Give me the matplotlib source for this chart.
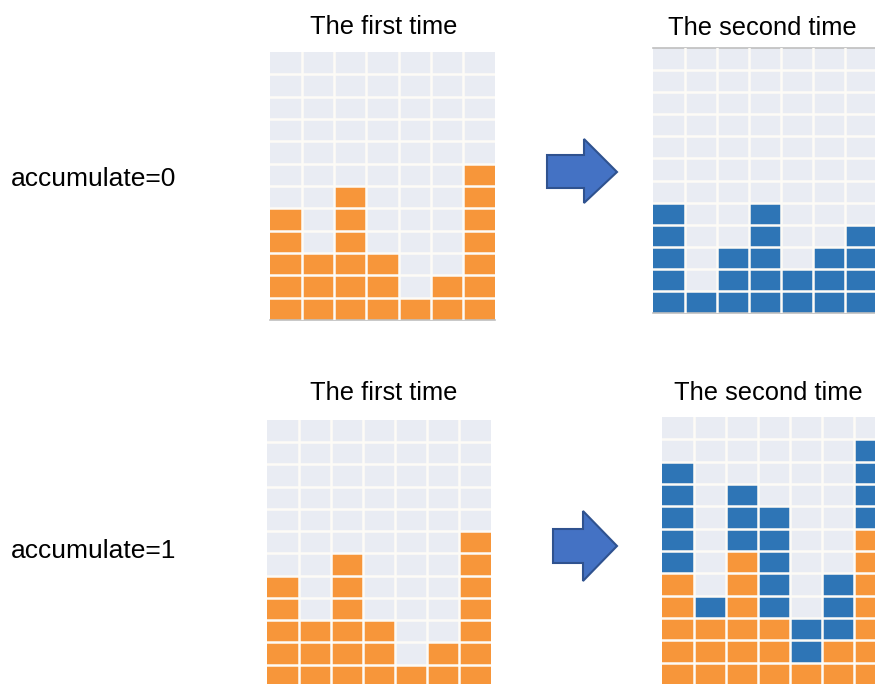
"""Grid diagram: accumulate=0 vs accumulate=1 across two passes."""
import matplotlib
matplotlib.use("Agg")
import matplotlib.pyplot as plt
import numpy as np
from matplotlib.patches import Polygon

plt.rcParams["font.family"] = ["Liberation Sans", "DejaVu Sans"]

W, H = 875, 684

# data
columns = np.arange(7)
n_rows = 12
first_heights = [5, 3, 6, 3, 1, 2, 7]
second_heights = [5, 1, 3, 5, 2, 3, 4]
row_labels = ["accumulate=0", "accumulate=1"]
titles = ["The first time", "The second time"]

ORANGE = "#F7963A"
BLUE = "#2E75B6"
CELL = "#E9ECF3"
GRID = "#FDFBF6"
SPINE = "#BFBFBF"


def px_axes(fig, x0, y0, x1, y1):
    # pixel box (top-left origin) -> figure fraction
    return fig.add_axes([x0 / W, 1 - y1 / H, (x1 - x0) / W, (y1 - y0) / H])


def draw_grid(ax, lower, upper=None, lower_color=ORANGE, top_spine=False):
    ax.bar(columns, [n_rows] * len(columns), width=1, color=CELL, zorder=1)
    ax.bar(columns, lower, width=1, color=lower_color, zorder=2)
    if upper is not None:
        ax.bar(columns, upper, width=1, bottom=lower, color=BLUE, zorder=2)
    for i in range(1, len(columns)):
        ax.axvline(i - 0.5, color=GRID, lw=1.8, zorder=3)
    for j in range(1, n_rows):
        ax.axhline(j, color=GRID, lw=1.8, zorder=3)
    ax.set_xlim(-0.5, len(columns) - 0.5)
    ax.set_ylim(0, n_rows)
    ax.set_xticks([])
    ax.set_yticks([])
    for side in ["left", "right", "top"]:
        ax.spines[side].set_visible(False)
    ax.spines["bottom"].set_color(SPINE)
    ax.spines["bottom"].set_linewidth(1.2)
    if top_spine:
        ax.spines["top"].set_visible(True)
        ax.spines["top"].set_color(SPINE)
        ax.spines["top"].set_linewidth(1.2)


def arrow(ax, left, body_top, body_bot, head_x, head_top, head_bot, tip_x, tip_y):
    pts = [(left, body_top), (head_x, body_top), (head_x, head_top), (tip_x, tip_y),
           (head_x, head_bot), (head_x, body_bot), (left, body_bot)]
    ax.add_patch(Polygon(pts, closed=True, facecolor="#4472C4", edgecolor="#2F528F", lw=1.5))


fig = plt.figure(figsize=(W / 100, H / 100), dpi=100)
fig.patch.set_facecolor("white")

bg = fig.add_axes([0, 0, 1, 1])
bg.set_xlim(0, W)
bg.set_ylim(H, 0)
bg.axis("off")

# top row: accumulate=0
ax_tl = px_axes(fig, 270, 52, 495, 320)
draw_grid(ax_tl, first_heights)
ax_tr = px_axes(fig, 653, 48, 877, 313)
draw_grid(ax_tr, second_heights, lower_color=BLUE, top_spine=True)

# bottom row: accumulate=1
ax_bl = px_axes(fig, 267, 420, 491, 687)
draw_grid(ax_bl, first_heights)
ax_br = px_axes(fig, 662, 417, 886, 685)
draw_grid(ax_br, first_heights, second_heights)

fs_title = 18.4
fs_label = 19
bg.text(384, 34, titles[0], ha="center", va="baseline", fontsize=fs_title)
bg.text(762, 35, titles[1], ha="center", va="baseline", fontsize=fs_title)
bg.text(384, 400, titles[0], ha="center", va="baseline", fontsize=fs_title)
bg.text(768, 400, titles[1], ha="center", va="baseline", fontsize=fs_title)

bg.text(11, 186, row_labels[0], ha="left", va="baseline", fontsize=fs_label)
bg.text(11, 558, row_labels[1], ha="left", va="baseline", fontsize=fs_label)

arrow(bg, 547, 155, 188, 584, 139, 203, 617, 172)
arrow(bg, 553, 529, 563, 583, 511, 581, 617, 546)

fig.savefig("out.png", dpi=100)
